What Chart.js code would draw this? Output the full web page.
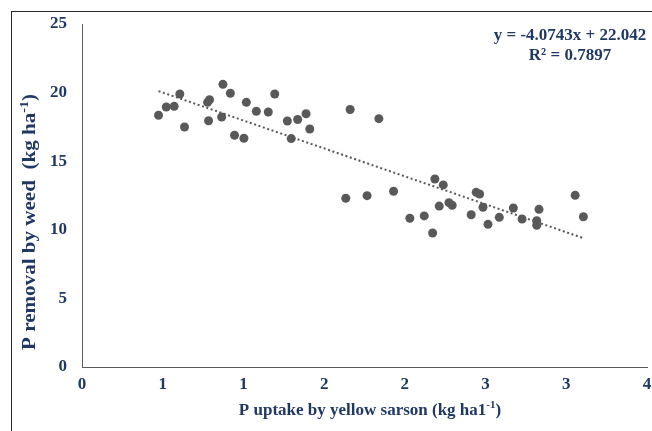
<!DOCTYPE html>
<html><head><meta charset="utf-8">
<script src="https://cdn.jsdelivr.net/npm/chart.js@4.4.0/dist/chart.umd.min.js"></script>
<style>html,body{margin:0;padding:0;background:#fff}#wrap{width:652px;height:431px;position:relative}</style>
</head><body><div id="wrap"><canvas id="c" width="652" height="431"></canvas></div>
<script>
// ---- data ----
const xValues = [0.474,0.522,0.571,0.606,0.635,0.778,0.790,0.784,0.873,0.865,0.919,0.945,1.003,1.018,1.080,1.154,1.194,1.272,1.296,1.336,1.388,1.411,1.661,1.839,1.634,1.766,1.930,2.186,2.238,2.031,2.120,2.172,2.213,2.273,2.293,2.411,2.442,2.463,2.484,2.515,2.585,2.672,2.726,2.817,2.817,2.831,3.055,3.106];
const yValues = [18.35,18.95,19.00,19.90,17.49,19.29,19.48,17.95,20.60,18.22,19.95,16.89,16.67,19.29,18.64,18.59,19.90,17.93,16.65,18.04,18.46,17.35,18.77,18.10,12.30,12.49,12.81,13.70,13.27,10.84,11.01,9.77,11.73,11.98,11.79,11.10,12.73,12.61,11.64,10.40,10.91,11.59,10.79,10.66,10.33,11.49,12.51,10.95];
const trendX = [0.474, 3.106];
const trendY = [20.11, 9.39];
const xTickLabels = ['0','1','1','2','2','3','3','4'];
const equationLines = ['y = -4.0743x + 22.042', 'R\u00B2 = 0.7897'];
const xTitleParts = ['P uptake by yellow sarson (kg ha1', '-1', ')'];
const yTitleParts = ['P removal by weed  (kg ha', '-1', ')'];

const NAVY = '#1F3864';
const GREY = '#595959';
const FAM = '"Liberation Serif","Times New Roman",serif';
const FONT = {family: FAM, size: 17, weight: 'bold'};

function drawRich(ctx, parts, cx, cy, rotate, size, stretch) {
  ctx.save();
  ctx.translate(cx, cy);
  if (rotate) ctx.rotate(-Math.PI / 2);
  ctx.scale(stretch, 1);
  const supSize = Math.round(size * 0.65);
  const main = 'bold ' + size + 'px ' + FAM, sup = 'bold ' + supSize + 'px ' + FAM;
  ctx.font = main; const w0 = ctx.measureText(parts[0]).width, w2 = ctx.measureText(parts[2]).width;
  ctx.font = sup; const w1 = ctx.measureText(parts[1]).width;
  let x = -(w0 + w1 + w2) / 2;
  const base = size * 0.35;
  ctx.fillStyle = NAVY; ctx.textBaseline = 'alphabetic'; ctx.textAlign = 'left';
  ctx.font = main; ctx.fillText(parts[0], x, base); x += w0;
  ctx.font = sup; ctx.fillText(parts[1], x, base - size * 0.42); x += w1;
  ctx.font = main; ctx.fillText(parts[2], x, base);
  ctx.restore();
}

const decor = {
  id: 'decor',
  beforeDraw(chart) {
    const ctx = chart.ctx;
    ctx.save();
    ctx.fillStyle = '#fff'; ctx.fillRect(0, 0, chart.width, chart.height);
    ctx.strokeStyle = '#262626'; ctx.lineWidth = 1;
    ctx.strokeRect(11.5, 11.5, 700, 500);
    ctx.restore();
  },
  afterDraw(chart) {
    const ctx = chart.ctx;
    drawRich(ctx, xTitleParts, 370, 409, false, 17, 1);
    drawRich(ctx, yTitleParts, 29, 222, true, 18, 1.17);
    ctx.save();
    ctx.font = 'bold 17px ' + FAM; ctx.fillStyle = NAVY;
    ctx.textAlign = 'center'; ctx.textBaseline = 'middle';
    ctx.fillText(equationLines[0], 570, 36);
    ctx.fillText(equationLines[1], 570, 56);
    ctx.restore();
  }
};

const points = xValues.map((x, i) => ({x: x, y: yValues[i]}));
const trend = trendX.map((x, i) => ({x: x, y: trendY[i]}));

new Chart(document.getElementById('c'), {
  type: 'scatter',
  data: {datasets: [
    {data: trend, showLine: true, borderColor: GREY, borderWidth: 2, borderDash: [2, 2.6], pointRadius: 0, order: 0},
    {data: points, backgroundColor: GREY, borderColor: GREY, borderWidth: 0, pointRadius: 4.5, order: 1}
  ]},
  options: {
    responsive: false, animation: false, devicePixelRatio: 1,
    layout: {padding: {left: 0, top: 24, right: 5, bottom: 0}},
    plugins: {legend: {display: false}, tooltip: {enabled: false}},
    scales: {
      x: {type: 'linear', min: 0, max: 3.5,
        ticks: {stepSize: 0.5, autoSkip: false, maxRotation: 0, color: NAVY, font: FONT, padding: 7,
          callback: (v, i) => xTickLabels[i]},
        grid: {drawOnChartArea: false, drawTicks: false},
        border: {color: GREY, width: 1},
        afterFit(s) { s.height = 64; s.paddingLeft = 0; s.paddingRight = 0; }
      },
      y: {type: 'linear', min: 0, max: 25,
        ticks: {stepSize: 5, color: NAVY, font: FONT, padding: 15},
        grid: {drawOnChartArea: false, drawTicks: false},
        border: {color: GREY, width: 1},
        afterFit(s) { s.width = 82; s.paddingTop = 0; s.paddingBottom = 0; }
      }
    }
  },
  plugins: [decor]
});
</script></body></html>
